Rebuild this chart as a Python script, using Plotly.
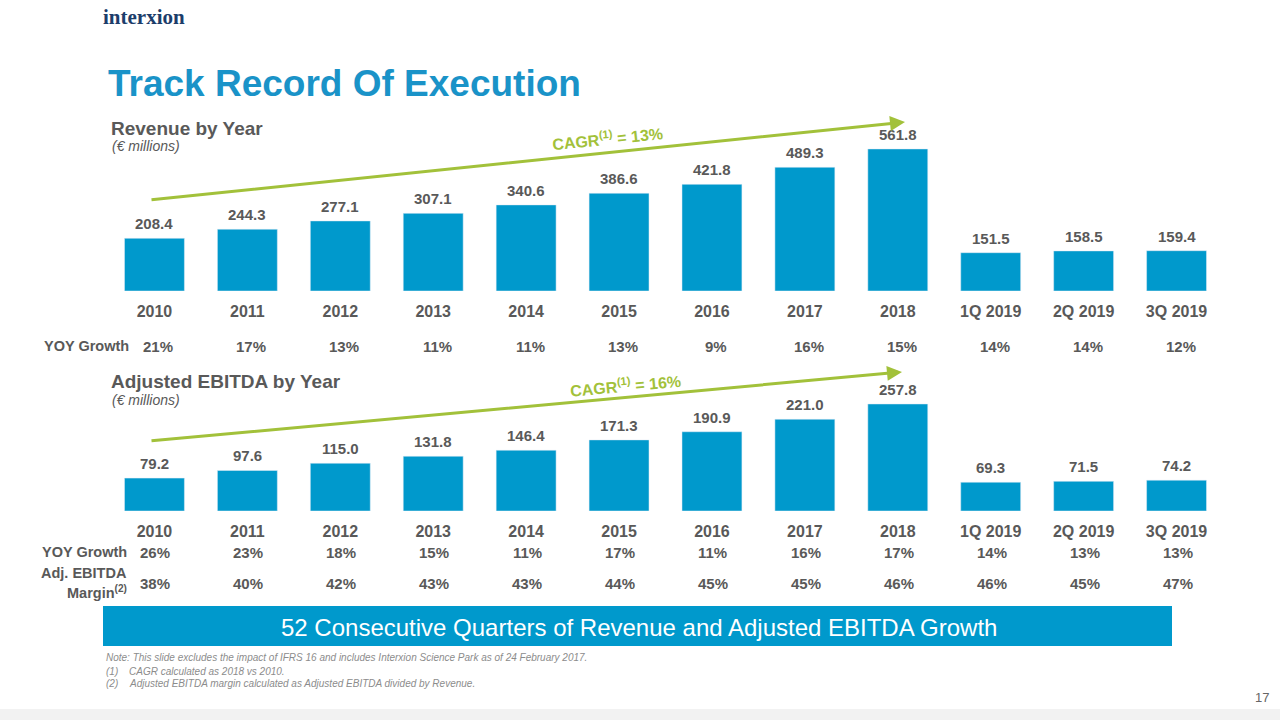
import plotly.graph_objects as go

categories = ["2010", "2011", "2012", "2013", "2014", "2015", "2016", "2017", "2018", "1Q 2019", "2Q 2019", "3Q 2019"]
revenue = [208.4, 244.3, 277.1, 307.1, 340.6, 386.6, 421.8, 489.3, 561.8, 151.5, 158.5, 159.4]
ebitda = [79.2, 97.6, 115.0, 131.8, 146.4, 171.3, 190.9, 221.0, 257.8, 69.3, 71.5, 74.2]
rev_growth = ["21%", "17%", "13%", "11%", "11%", "13%", "9%", "16%", "15%", "14%", "14%", "12%"]
ebitda_growth = ["26%", "23%", "18%", "15%", "11%", "17%", "11%", "16%", "17%", "14%", "13%", "13%"]
ebitda_margin = ["38%", "40%", "42%", "43%", "43%", "44%", "45%", "45%", "46%", "46%", "45%", "47%"]
rev_cagr = "13%"
ebitda_cagr = "16%"

W, H = 1280, 720
BLUE = "#0099cc"
TITLE_BLUE = "#1a93c8"
GRAY = "#595959"
GREEN = "#a2c13a"
FONT = "Liberation Sans, Arial, sans-serif"


def px(x):
    return x / W


def py(y):
    return 1 - y / H


fig = go.Figure()
fig.add_trace(go.Bar(x=categories, y=revenue, marker_color=BLUE, xaxis="x", yaxis="y", hoverinfo="x+y"))
fig.add_trace(go.Bar(x=categories, y=ebitda, marker_color=BLUE, xaxis="x2", yaxis="y2", hoverinfo="x+y"))

xdom = [px(108), px(1223)]
xrange = [-0.5, len(categories) - 0.5]
tickfont = dict(family=FONT, size=16, color=GRAY)
common_x = dict(domain=xdom, type="category", range=xrange, autorange=False, showgrid=False,
                zeroline=False, showline=False, ticks="outside", ticklen=6,
                tickcolor="rgba(0,0,0,0)", tickfont=tickfont, tickangle=0,
                categoryorder="array", categoryarray=categories,
                tickvals=categories, ticktext=[f"<b>{c}</b>" for c in categories])
fig.update_layout(
    width=W, height=H,
    margin=dict(l=0, r=0, t=0, b=0),
    paper_bgcolor="white", plot_bgcolor="white",
    showlegend=False,
    bargap=0.355,
    xaxis=dict(anchor="y", **common_x),
    yaxis=dict(domain=[py(291), py(114)], range=[0, 700], autorange=False, visible=False, fixedrange=True),
    xaxis2=dict(anchor="y2", **common_x),
    yaxis2=dict(domain=[py(511), py(374)], range=[0, 330], autorange=False, visible=False, fixedrange=True),
)

ann = []
val_font = dict(family=FONT, size=15, color=GRAY)
for i, v in enumerate(revenue):
    ann.append(dict(x=i, y=v, xref="x", yref="y", text=f"<b>{v:.1f}</b>", showarrow=False,
                    xanchor="center", yanchor="bottom", yshift=4, font=val_font))
for i, v in enumerate(ebitda):
    ann.append(dict(x=i, y=v, xref="x2", yref="y2", text=f"<b>{v:.1f}</b>", showarrow=False,
                    xanchor="center", yanchor="bottom", yshift=4, font=val_font))

row_font = dict(family=FONT, size=15, color=GRAY)
label_font = dict(family=FONT, size=14.5, color=GRAY)
for i, g in enumerate(rev_growth):
    ann.append(dict(x=i, y=py(346), xref="x", yref="paper", text=f"<b>{g}</b>", showarrow=False,
                    xanchor="center", yanchor="middle", xshift=4, font=row_font))
for i, g in enumerate(ebitda_growth):
    ann.append(dict(x=i, y=py(552), xref="x2", yref="paper", text=f"<b>{g}</b>", showarrow=False,
                    xanchor="center", yanchor="middle", xshift=1, font=row_font))
for i, g in enumerate(ebitda_margin):
    ann.append(dict(x=i, y=py(583), xref="x2", yref="paper", text=f"<b>{g}</b>", showarrow=False,
                    xanchor="center", yanchor="middle", xshift=1, font=row_font))


def paper_text(x, y, text, font, xanchor="left", **kw):
    d = dict(x=px(x), y=py(y), xref="paper", yref="paper", text=text, showarrow=False,
             xanchor=xanchor, yanchor="middle", font=font)
    d.update(kw)
    ann.append(d)


# row labels
paper_text(131, 346, "<b>YOY Growth</b>", label_font, "right")
paper_text(129, 552, "<b>YOY Growth</b>", label_font, "right")
paper_text(129, 573, "<b>Adj. EBITDA</b>", label_font, "right")
paper_text(129, 592, "<b>Margin<sup>(2)</sup></b>", label_font, "right")

# logo + title
paper_text(101, 17, "<b>interxion</b>", dict(family="Liberation Serif, serif", size=21, color="#1c3d6b"))
paper_text(106, 83, "<b>Track Record Of Execution</b>", dict(family=FONT, size=37, color=TITLE_BLUE))

# section headings
for ytitle, ysub, t in [(128, 146, "Revenue by Year"), (381, 400, "Adjusted EBITDA by Year")]:
    paper_text(109, ytitle, f"<b>{t}</b>", dict(family=FONT, size=19, color=GRAY))
    paper_text(110, ysub, "<i>(€ millions)</i>", dict(family=FONT, size=14, color=GRAY))

# CAGR arrows
for (x0, y0, x1, y1, tx, ty, ang, val) in [
    (150, 200, 905, 122, 607, 138, -5.8, rev_cagr),
    (150, 441, 902, 372, 625, 385, -5.2, ebitda_cagr),
]:
    ann.append(dict(x=px(x1), y=py(y1), xref="paper", yref="paper", ax=x0 - x1, ay=y0 - y1,
                    axref="pixel", ayref="pixel", showarrow=True, arrowhead=2, arrowsize=1,
                    arrowwidth=3, arrowcolor=GREEN, text=""))
    paper_text(tx, ty, f"<b>CAGR<sup>(1)</sup> = {val}</b>", dict(family=FONT, size=16, color=GREEN),
               "center", textangle=ang)

# banner
paper_text(639, 627, "52 Consecutive Quarters of Revenue and Adjusted EBITDA Growth",
           dict(family=FONT, size=24, color="white"), "center")

# footnotes
note_font = dict(family=FONT, size=10, color="#8c8c8c")
paper_text(104, 657, "<i>Note: This slide excludes the impact of IFRS 16 and includes Interxion Science Park as of 24 February 2017.</i>", note_font)
for yy, num, txt in [(671, "(1)", "CAGR calculated as 2018 vs 2010."),
                     (683, "(2)", "Adjusted EBITDA margin calculated as Adjusted EBITDA divided by Revenue.")]:
    paper_text(104, yy, f"<i>{num}</i>", note_font)
    paper_text(127, yy, f"<i>{txt}</i>", note_font)

paper_text(1271, 697, "17", dict(family=FONT, size=13, color="#666666"), "right")

fig.update_layout(annotations=ann)

fig.update_layout(shapes=[
    dict(type="rect", xref="paper", yref="paper", x0=px(103), x1=px(1172), y0=py(646), y1=py(606),
         fillcolor=BLUE, line=dict(width=0), layer="below"),
    dict(type="rect", xref="paper", yref="paper", x0=0, x1=1, y0=0, y1=py(709),
         fillcolor="#f2f2f2", line=dict(width=0), layer="below"),
])

fig.write_html("out.html")
